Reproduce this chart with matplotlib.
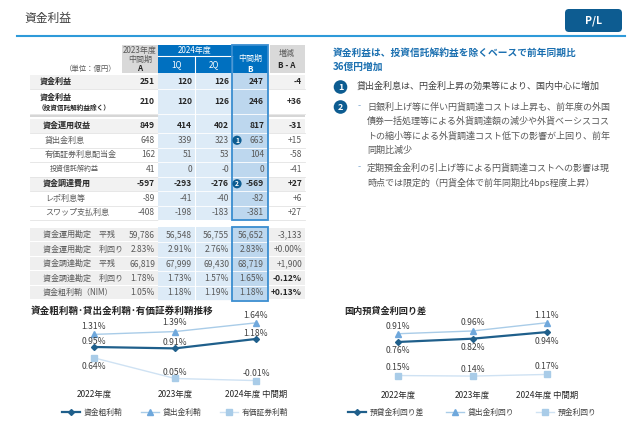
import matplotlib
matplotlib.use("Agg")
import matplotlib.pyplot as plt
from matplotlib.patches import Rectangle, Circle, FancyBboxPatch

plt.rcParams['font.family'] = ['Noto Sans CJK JP', 'DejaVu Sans']

# ---------------- data ----------------
upper_labels = ['資金利益', '資金利益', '資金運用収益', '貸出金利息', '有価証券利息配当金',
                '投資信託解約益', '資金調達費用', 'レポ利息等', 'スワップ支払利息']
upper_A = ['251', '210', '849', '648', '162', '41', '-597', '-89', '-408']
upper_Q1 = ['120', '120', '414', '339', '51', '0', '-293', '-41', '-198']
upper_Q2 = ['126', '126', '402', '323', '53', '-0', '-276', '-40', '-183']
upper_B = ['247', '246', '817', '663', '104', '0', '-569', '-82', '-381']
upper_D = ['-4', '+36', '-31', '+15', '-58', '-41', '+27', '+6', '+27']

lower_labels = ['資金運用勘定　平残', '資金運用勘定　利回り', '資金調達勘定　平残',
                '資金調達勘定　利回り', '資金粗利鞘（NIM）']
lower_A = ['59,786', '2.83%', '66,819', '1.78%', '1.05%']
lower_Q1 = ['56,548', '2.91%', '67,999', '1.73%', '1.18%']
lower_Q2 = ['56,755', '2.76%', '69,430', '1.57%', '1.19%']
lower_B = ['56,652', '2.83%', '68,719', '1.65%', '1.18%']
lower_D = ['-3,133', '+0.00%', '+1,900', '-0.12%', '+0.13%']

years = ['2022年度', '2023年度', '2024年度 中間期']
nim = [0.95, 0.91, 1.18]
loan_margin = [1.31, 1.39, 1.64]
sec_margin = [0.64, 0.05, -0.01]

spread = [0.76, 0.82, 0.94]
loan_yield = [0.91, 0.96, 1.11]
dep_yield = [0.15, 0.14, 0.17]

# ---------------- figure ----------------
W, H = 640, 443
fig = plt.figure(figsize=(6.4, 4.43), dpi=100)
fig.patch.set_facecolor('white')
bg = fig.add_axes([0, 0, 1, 1])
bg.set_xlim(0, W)
bg.set_ylim(H, 0)
bg.axis('off')

DARK = '#262626'
GRAY = '#595959'
BLUE_H = '#0070c0'
LBLUE = '#ddebf7'
MBLUE = '#bdd7ee'
BORDER = '#3a8dd0'
NAVY = '#0d5c91'


def txt(x, y, s, size=5.8, color=GRAY, weight='normal', ha='left', va='center'):
    bg.text(x, y, s, fontsize=size, color=color, fontweight=weight, ha=ha, va=va)


def rect(x0, y0, x1, y1, fc, ec='none', lw=0, z=1):
    bg.add_patch(Rectangle((x0, y0), x1 - x0, y1 - y0, facecolor=fc, edgecolor=ec,
                           linewidth=lw, zorder=z))


# title
txt(24, 18, '資金利益', size=8.5, color='#404040')
bg.plot([17, 625], [36, 36], color='#2e9ad9', lw=1.5)
bg.add_patch(FancyBboxPatch((565, 9), 57, 23, boxstyle='round,pad=0,rounding_size=4',
                            facecolor=NAVY, edgecolor='none'))
txt(593.5, 20.5, 'P/L', size=7.5, color='white', weight='bold', ha='center')

# ---------------- table ----------------
LX0, AX0, Q1X0, Q2X0, BX0, BX1, DX0, DX1 = 30, 122, 158, 195, 232, 268, 269, 305
right_x = [155, 192, 229, 264, 302]

# header
rect(AX0, 45, Q1X0 - 0.5, 73, '#d9d9d9')
rect(Q1X0, 45, BX1, 73, BLUE_H)
rect(DX0 + 0.5, 45, DX1, 73, '#d9d9d9')
bg.plot([Q1X0, BX0], [55.5, 55.5], color='white', lw=0.8, zorder=2)
bg.plot([Q2X0, Q2X0], [56, 73], color='white', lw=0.8, zorder=2)
bg.plot([BX0, BX0], [56, 73], color='white', lw=0.8, zorder=2)
txt((AX0 + Q1X0) / 2, 50, '2023年度', size=5.8, ha='center')
txt((AX0 + Q1X0) / 2, 59, '中間期', size=5.8, ha='center')
txt((AX0 + Q1X0) / 2, 68.5, 'A', size=5.8, color=DARK, weight='bold', ha='center')
txt(117, 68.5, '（単位：億円）', size=5.3, ha='right')
txt((Q1X0 + BX0) / 2, 50, '2024年度', size=5.8, color='white', ha='center')
txt((Q1X0 + Q2X0) / 2, 64.5, '1Q', size=5.8, color='white', ha='center')
txt((Q2X0 + BX0) / 2, 64.5, '2Q', size=5.8, color='white', ha='center')
txt((BX0 + BX1) / 2, 58, '中間期', size=5.8, color='white', ha='center')
txt((BX0 + BX1) / 2, 69, 'B', size=5.8, color='white', weight='bold', ha='center')
txt((DX0 + DX1) / 2, 53, '増減', size=5.8, ha='center')
txt((DX0 + DX1) / 2, 65, 'B - A', size=5.8, color=DARK, weight='bold', ha='center')

# upper body geometry
u_tops = [74.5, 88.5] + [118.5 + 14.5 * i for i in range(7)]
u_bots = [88.5, 113.5] + [118.5 + 14.5 * (i + 1) for i in range(7)]
bold_rows = {0, 1, 2, 6}
gray_rows = {0, 2, 6}
label_x = [40, 40, 43, 45, 45, 50, 43, 45, 45]

# blue column backgrounds
rect(Q1X0, 73, BX0, 220, LBLUE)
rect(Q1X0, 227, BX0, 300.5, LBLUE)
rect(BX0, 73, BX1, 220, MBLUE)
rect(BX0, 227, BX1, 300.5, MBLUE)
bg.plot([Q2X0, Q2X0], [73, 220], color='white', lw=0.8, zorder=2)
bg.plot([Q2X0, Q2X0], [227, 300.5], color='white', lw=0.8, zorder=2)

# gap band between row 2 and row 3
rect(LX0, 114.5, Q1X0, 116.5, '#d6d6d6')
rect(DX0, 114.5, DX1, 116.5, '#d6d6d6')

for i in range(len(upper_labels)):
    t, b = u_tops[i], u_bots[i]
    if i in gray_rows:
        rect(LX0, t, Q1X0, b, '#f2f2f2')
        rect(DX0, t, DX1, b, '#f2f2f2')
    bg.plot([LX0, Q1X0], [b, b], color='#e3e3e3', lw=0.6, zorder=2)
    bg.plot([DX0, DX1], [b, b], color='#e3e3e3', lw=0.6, zorder=2)
    bg.plot([Q1X0, BX1], [b, b], color='white', lw=0.6, zorder=2)
    yc = (t + b) / 2
    bold = i in bold_rows
    col = DARK if bold else GRAY
    w = 'bold' if bold else 'normal'
    if i == 1:
        txt(label_x[i], 97, upper_labels[i], size=5.8, color=col, weight=w)
        txt(label_x[i] - 2, 107.5, '（投資信託解約益除く）', size=4.8, color=col, weight=w)
    elif i == 5:
        txt(label_x[i], yc, upper_labels[i], size=5.0, color=GRAY)
    else:
        txt(label_x[i], yc, upper_labels[i], size=5.8, color=col, weight=w)
    vals = [upper_A[i], upper_Q1[i], upper_Q2[i], upper_B[i], upper_D[i]]
    for xr, v in zip(right_x, vals):
        txt(xr, yc, v, size=6.1, color=col, weight=w, ha='right')

# B column borders
bg.add_patch(Rectangle((BX0, 45), BX1 - BX0, 220 - 45, facecolor='none',
                       edgecolor=BORDER, lw=1.3, zorder=4))
bg.add_patch(Rectangle((BX0, 227), BX1 - BX0, 300.5 - 227, facecolor='none',
                       edgecolor=BORDER, lw=1.3, zorder=4))

# circled markers in table
for n, yc in (('1', 140.25), ('2', 183.75)):
    bg.add_patch(Circle((237, yc), 4.6, facecolor=NAVY, edgecolor='none', zorder=5))
    bg.text(237, yc, n, fontsize=4.8, color='white', fontweight='bold',
            ha='center', va='center', zorder=6)

# lower body
for i in range(len(lower_labels)):
    t = 227.5 + 14.5 * i
    b = t + 14.5
    rect(LX0, t, Q1X0, b - 0.8, '#efefef')
    rect(DX0, t, DX1, b - 0.8, '#efefef')
    bg.plot([Q1X0, BX1], [b, b], color='white', lw=0.6, zorder=2)
    yc = (t + b) / 2
    txt(43, yc, lower_labels[i], size=5.8, color=GRAY)
    vals = [lower_A[i], lower_Q1[i], lower_Q2[i], lower_B[i], lower_D[i]]
    for j, (xr, v) in enumerate(zip(right_x, vals)):
        w = 'bold' if (j == 4 and i >= 3) else 'normal'
        c = DARK if w == 'bold' else GRAY
        txt(xr, yc, v, size=6.1, color=c, weight=w, ha='right')

# ---------------- right text block ----------------
TBLUE = '#1a6fb0'
txt(333, 53, '資金利益は、投資信託解約益を除くベースで前年同期比', size=7.0,
    color=TBLUE, weight='bold')
txt(333, 67, '36億円増加', size=7.0, color=TBLUE, weight='bold')
for n, yc in (('1', 87), ('2', 107)):
    bg.add_patch(Circle((340.5, yc), 6.8, facecolor=NAVY, edgecolor='none', zorder=5))
    bg.text(340.5, yc, n, fontsize=6.5, color='white', fontweight='bold',
            ha='center', va='center', zorder=6)
txt(357, 86.5, '貸出金利息は、円金利上昇の効果等により、国内中心に増加', size=6.5, color='#404040')
lines2 = ['日銀利上げ等に伴い円貨調達コストは上昇も、前年度の外国',
          '債券一括処理等による外貨調達額の減少や外貨ベーシスコス',
          'トの縮小等による外貨調達コスト低下の影響が上回り、前年',
          '同期比減少']
lines3 = ['定期預金金利の引上げ等による円貨調達コストへの影響は現',
          '時点では限定的（円貨全体で前年同期比4bps程度上昇）']
txt(357.5, 105.5, '-', size=6.5, color='#7fa8d0')
for k, s in enumerate(lines2):
    txt(367, 107 + 14.3 * k, s, size=6.5, color='#595959')
txt(357.5, 167, '-', size=6.5, color='#7fa8d0')
for k, s in enumerate(lines3):
    txt(367, 168.5 + 14.5 * k, s, size=6.5, color='#595959')

# ---------------- line charts ----------------
C_DARK = '#1f5f8b'
C_MID = '#6fa8dc'
C_LIGHT = '#a9cce8'
LAB = '#404040'


def px_axes(left, top, width, height):
    ax = fig.add_axes([left / W, 1 - (top + height) / H, width / W, height / H])
    ax.patch.set_alpha(0)
    for s in ax.spines.values():
        s.set_visible(False)
    ax.set_yticks([])
    return ax


def annotate(ax, xs, ys, offs):
    for x, y, o in zip(xs, ys, offs):
        ax.annotate(f'{y:.2f}%', (x, y), xytext=(0, o), textcoords='offset pixels',
                    ha='center', va='center', fontsize=6.2, color=LAB)


xs = list(range(len(years)))

# left chart
ax1 = px_axes(53.5, 315, 243, 70)
ax1.set_xlim(-0.5, 2.5)
ax1.set_ylim(-0.136, 1.864)
ax1.plot(xs, nim, color=C_DARK, lw=1.6, marker='D', ms=3, label='資金粗利鞘')
ax1.plot(xs, loan_margin, color=C_LIGHT, lw=1.0, marker='^', ms=4.5, mfc=C_MID,
         mec=C_MID, label='貸出金利鞘')
ax1.plot(xs, sec_margin, color='#cfe2f3', lw=1.0, marker='s', ms=3.8, mfc=C_LIGHT,
         mec=C_LIGHT, label='有価証券利鞘')
annotate(ax1, xs, nim, [5, 6, 5])
annotate(ax1, xs, loan_margin, [8, 9, 7])
annotate(ax1, xs, sec_margin, [-9, 6, 7])
ax1.set_xticks(xs, years)
ax1.tick_params(axis='x', length=0, pad=3.3, labelsize=6, labelcolor=DARK)
ax1.legend(loc='center', bbox_to_anchor=(0.5, -0.4), ncol=3, frameon=False,
           fontsize=5.6, handlelength=2.3, columnspacing=2.4, handletextpad=0.5,
           labelcolor=LAB)
txt(31, 311, '資金粗利鞘･貸出金利鞘･有価証券利鞘推移', size=6.9, color=DARK, weight='bold')

# right chart
ax2 = px_axes(360.75, 312, 223.5, 73)
ax2.set_xlim(-0.5, 2.5)
ax2.set_ylim(-0.022, 1.305)
ax2.plot(xs, spread, color=C_DARK, lw=1.6, marker='D', ms=3, label='預貸金利回り差')
ax2.plot(xs, loan_yield, color=C_LIGHT, lw=1.0, marker='^', ms=4.5, mfc=C_MID,
         mec=C_MID, label='貸出金利回り')
ax2.plot(xs, dep_yield, color='#cfe2f3', lw=1.0, marker='s', ms=3.8, mfc=C_LIGHT,
         mec=C_LIGHT, label='預金利回り')
annotate(ax2, xs, spread, [-9, -9, -9])
annotate(ax2, xs, loan_yield, [7.5, 8, 7])
annotate(ax2, xs, dep_yield, [8, 7, 8])
ax2.set_xticks(xs, years)
ax2.tick_params(axis='x', length=0, pad=4, labelsize=6, labelcolor=DARK)
ax2.legend(loc='center', bbox_to_anchor=(0.5, -0.384), ncol=3, frameon=False,
           fontsize=5.6, handlelength=2.3, columnspacing=2.8, handletextpad=0.5,
           labelcolor=LAB)
txt(344, 311, '国内預貸金利回り差', size=6.6, color=DARK, weight='bold')

fig.savefig('out.png', dpi=100)
